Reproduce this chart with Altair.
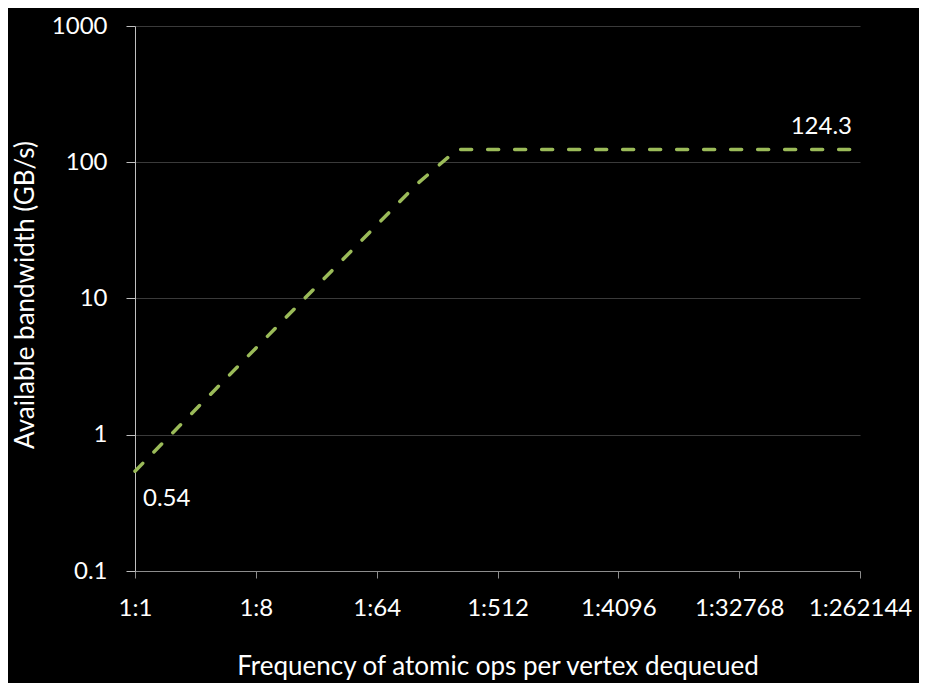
import altair as alt
import pandas as pd

# Frequency denominators (1:N) and available bandwidth (GB/s)
freq = [1, 2, 4, 8, 16, 32, 64, 128, 256, 512, 1024, 2048, 4096, 8192,
        16384, 32768, 65536, 131072, 262144]
bandwidth = [0.54, 1.08, 2.16, 4.32, 8.64, 17.28, 34.56, 69.12, 124.3, 124.3,
             124.3, 124.3, 124.3, 124.3, 124.3, 124.3, 124.3, 124.3, 124.3]

x_ticks = [1, 8, 64, 512, 4096, 32768, 262144]
y_ticks = [0.1, 1, 10, 100, 1000]

ann_freq = [1, 262144]
ann_val = [0.54, 124.3]
ann_text = ["0.54", "124.3"]

df = pd.DataFrame({"freq": freq, "bw": bandwidth})
ann = pd.DataFrame({"freq": ann_freq, "bw": ann_val, "label": ann_text})

FONT = "Lato"
LABEL_FS = 24
TITLE_FS = 26
W, H = 725, 545

x_enc = alt.X(
    "freq:Q",
    scale=alt.Scale(type="log", base=2, domain=[1, 262144], nice=False),
    axis=alt.Axis(
        values=x_ticks,
        labelExpr="'1:' + datum.value",
        title="Frequency of atomic ops per vertex dequeued",
        titleX=W / 2,
        titleY=95,
        titleBaseline="middle",
        grid=False,
        domainColor="#8c8c8c",
        tickColor="#8c8c8c",
        tickSize=7,
        labelPadding=18,
        labelColor="white",
        titleColor="white",
        labelFont=FONT,
        titleFont=FONT,
        labelFontSize=LABEL_FS,
        titleFontSize=TITLE_FS,
        titleFontWeight="normal",
        labelOverlap=False,
        labelFlush=False,
    ),
)

y_enc = alt.Y(
    "bw:Q",
    scale=alt.Scale(type="log", domain=[0.1, 1000], nice=False),
    axis=alt.Axis(
        values=y_ticks,
        format="~g",
        title="Available bandwidth (GB/s)",
        titleX=-110,
        titleY=H / 2 - 4,
        titleBaseline="middle",
        titleAngle=-90,
        grid=True,
        gridColor="#3a3a3a",
        gridWidth=1,
        domainColor="#bfbfbf",
        tickColor="#bfbfbf",
        tickSize=9,
        labelPadding=19,
        labelColor="white",
        titleColor="white",
        labelFont=FONT,
        titleFont=FONT,
        labelFontSize=LABEL_FS,
        titleFontSize=TITLE_FS,
        titleFontWeight="normal",
    ),
)

line = alt.Chart(df).mark_line(
    color="#9BBB59",
    strokeWidth=3.5,
    strokeDash=[11, 16],
    strokeCap="round",
    strokeJoin="round",
).encode(x=x_enc, y=y_enc)

lab_low = alt.Chart(ann).transform_filter("datum.label == '0.54'").mark_text(
    align="left", baseline="middle", dx=8, dy=28, color="white",
    font=FONT, fontSize=LABEL_FS,
).encode(x="freq:Q", y="bw:Q", text="label:N")

lab_high = alt.Chart(ann).transform_filter("datum.label == '124.3'").mark_text(
    align="right", baseline="middle", dx=-8, dy=-22, color="white",
    font=FONT, fontSize=LABEL_FS,
).encode(x="freq:Q", y="bw:Q", text="label:N")

chart = alt.layer(line, lab_low, lab_high).properties(
    width=W,
    height=H,
    autosize=alt.AutoSizeParams(type="none"),
    padding={"left": 127, "top": 18, "right": 59, "bottom": 112},
).configure(background="black").configure_view(stroke=None)

chart.save("out.html", embed_options={"renderer": "svg", "actions": False})
